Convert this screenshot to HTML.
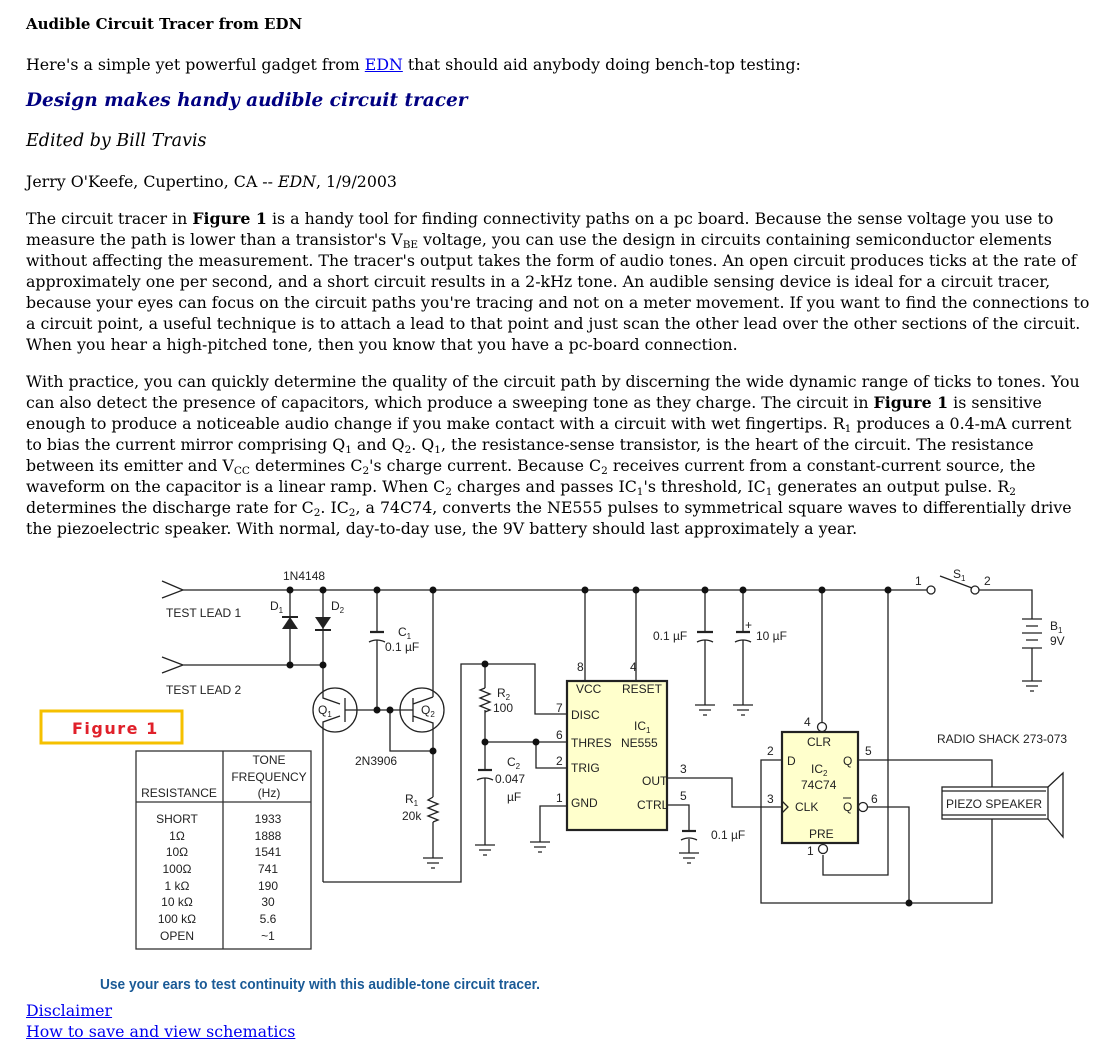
<!DOCTYPE html>
<html><head><meta charset="utf-8">
<style>
body{margin:0;background:#fff;width:1119px;height:1047px;position:relative;overflow:hidden;font-family:"DejaVu Serif",serif;color:#000}
.t{position:absolute;left:26px;white-space:nowrap;font-size:15.8px;line-height:21px}
a{color:#0000ee;text-decoration:underline}
sub{font-size:10.5px;vertical-align:-3px;line-height:0}
svg{position:absolute;left:0;top:0}
svg text{font-family:"Liberation Sans Narrow","Liberation Sans",sans-serif;font-size:12px;fill:#222}
</style></head><body>
<div class="t" style="top:14px;font-size:15px;font-weight:bold">Audible Circuit Tracer from EDN</div>
<div class="t" style="top:54px">Here's a simple yet powerful gadget from <a>EDN</a> that should aid anybody doing bench-top testing:</div>
<div class="t" style="top:89px;font-size:18.5px;line-height:24px;font-weight:bold;font-style:italic;color:#000080">Design makes handy audible circuit tracer</div>
<div class="t" style="top:130px;font-size:17.5px;line-height:22px;font-style:italic">Edited by Bill Travis</div>
<div class="t" style="top:171px">Jerry O'Keefe, Cupertino, CA -- <i>EDN</i>, 1/9/2003</div>
<div class="t" style="top:208px">The circuit tracer in <b>Figure 1</b> is a handy tool for finding connectivity paths on a pc board. Because the sense voltage you use to<br>measure the path is lower than a transistor's V<sub>BE</sub> voltage, you can use the design in circuits containing semiconductor elements<br>without affecting the measurement. The tracer's output takes the form of audio tones. An open circuit produces ticks at the rate of<br>approximately one per second, and a short circuit results in a 2-kHz tone. An audible sensing device is ideal for a circuit tracer,<br>because your eyes can focus on the circuit paths you're tracing and not on a meter movement. If you want to find the connections to<br>a circuit point, a useful technique is to attach a lead to that point and just scan the other lead over the other sections of the circuit.<br>When you hear a high-pitched tone, then you know that you have a pc-board connection.</div>
<div class="t" style="top:371px">With practice, you can quickly determine the quality of the circuit path by discerning the wide dynamic range of ticks to tones. You<br>can also detect the presence of capacitors, which produce a sweeping tone as they charge. The circuit in <b>Figure 1</b> is sensitive<br>enough to produce a noticeable audio change if you make contact with a circuit with wet fingertips. R<sub>1</sub> produces a 0.4-mA current<br>to bias the current mirror comprising Q<sub>1</sub> and Q<sub>2</sub>. Q<sub>1</sub>, the resistance-sense transistor, is the heart of the circuit. The resistance<br>between its emitter and V<sub>CC</sub> determines C<sub>2</sub>'s charge current. Because C<sub>2</sub> receives current from a constant-current source, the<br>waveform on the capacitor is a linear ramp. When C<sub>2</sub> charges and passes IC<sub>1</sub>'s threshold, IC<sub>1</sub> generates an output pulse. R<sub>2</sub><br>determines the discharge rate for C<sub>2</sub>. IC<sub>2</sub>, a 74C74, converts the NE555 pulses to symmetrical square waves to differentially drive<br>the piezoelectric speaker. With normal, day-to-day use, the 9V battery should last approximately a year.</div>
<div class="t" style="top:1000px"><a>Disclaimer</a></div>
<div class="t" style="top:1021px"><a>How to save and view schematics</a></div>

<svg width="1119" height="1047" viewBox="0 0 1119 1047">
<g stroke="#222" stroke-width="1.3" fill="none">
<path d="M183 590H931M975 590H1032V619M1032 648V681"/>
<path d="M162 581L183 590L162 598M162 657L183 665L162 673M183 665H323"/>
<path d="M290 590V665M323 590V665"/>
<path d="M377 590V632M377 640V710"/>
<path d="M433 590V697"/>
<circle cx="335" cy="710" r="22"/>
<circle cx="422" cy="710" r="22"/>
<path d="M323 665V698L340 704M345 698V722M345 710H413M413 698V722M323 882V722L340 716M413 704L433 697M413 716L433 723V751M390 710V751H433M433 751V797M433 822V858"/>
<path d="M323 882H461V664H535V714H567M485 664V688M485 710V742H567M536 742V768H567M485 742V770M485 778V845M567 806H540V842"/>
<path d="M433 797l-5 3l10 4l-10 4l10 4l-10 4l10 4l-5 2" />
<path d="M485 688l-5 2l10 4l-10 4l10 4l-10 4l10 4l-5 2"/>
<path d="M585 590V681M636 590V681M667 778H732V807H782M667 805H689V831M689 839V853"/>
<path d="M705 590V632M705 640V705M743 590V632M743 640V705"/>
<path d="M822 590V722M888 590V875H823V855M782 760H761V903H992V819M868 807H909V903M858 760H992V787"/>
<rect x="942" y="787" width="106" height="32"/>
<path d="M942 791H1046M942 815H1046M1048 787L1063 773V837L1048 819"/>
<circle cx="931" cy="590" r="4" fill="#fff"/>
<circle cx="975" cy="590" r="4" fill="#fff"/>
<path d="M940 576L972 588"/>
<path d="M1022 619H1042M1026 626H1038M1022 633H1042M1026 640H1038M1022 648H1042"/>
</g>
<g stroke="#222" stroke-width="2.2" fill="none">
<path d="M370 632H384M697 632h16M736 632h14"/>
<path d="M478 770h14"/>
<path d="M682 831h14"/>
</g>
<g stroke="#222" stroke-width="1.3" fill="none">
<path d="M369 642q8 -4 16 0M697 642q8 -4 16 0M735 642q8 -4 16 0M477 780q8 -4 16 0M681 840q8 -4 16 0"/>
</g>
<g stroke="#222" stroke-width="1.3">
<path d="M423 858h20M427 863h12M431 868h4"/>
<path d="M475 845h20M479 850h12M483 855h4"/>
<path d="M530 842h20M534 847h12M538 852h4"/>
<path d="M695 705h20M699 710h12M703 715h4"/>
<path d="M733 705h20M737 710h12M741 715h4"/>
<path d="M679 853h20M683 858h12M687 863h4"/>
<path d="M1022 681h20M1026 686h12M1030 691h4"/>
</g>
<polygon points="282,629 298,629 290,617" fill="#222"/><path d="M282 617H298" stroke="#222" stroke-width="2"/>
<polygon points="315,617 331,617 323,629" fill="#222"/><path d="M315 630H331" stroke="#222" stroke-width="2"/>
<g fill="#111">
<circle cx="290" cy="590" r="3.5"/><circle cx="323" cy="590" r="3.5"/><circle cx="377" cy="590" r="3.5"/><circle cx="433" cy="590" r="3.5"/>
<circle cx="290" cy="665" r="3.5"/><circle cx="323" cy="665" r="3.5"/><circle cx="377" cy="710" r="3.5"/><circle cx="390" cy="710" r="3.5"/>
<circle cx="433" cy="751" r="3.5"/><circle cx="485" cy="664" r="3.5"/><circle cx="485" cy="742" r="3.5"/><circle cx="536" cy="742" r="3.5"/>
<circle cx="585" cy="590" r="3.5"/><circle cx="636" cy="590" r="3.5"/><circle cx="705" cy="590" r="3.5"/><circle cx="743" cy="590" r="3.5"/>
<circle cx="822" cy="590" r="3.5"/><circle cx="888" cy="590" r="3.5"/><circle cx="909" cy="903" r="3.5"/>
</g>
<rect x="567" y="681" width="100" height="149" fill="#ffffcc" stroke="#222" stroke-width="2.2"/>
<rect x="782" y="732" width="76" height="111" fill="#ffffcc" stroke="#222" stroke-width="2.2"/>
<g stroke="#222" stroke-width="1.3" fill="#fff">
<circle cx="822" cy="727" r="4.5"/><circle cx="823" cy="849" r="4.5"/><circle cx="863" cy="807" r="4.5"/>
</g>
<path d="M782 801L788 807L782 813" stroke="#222" stroke-width="1.3" fill="none"/>
<text x="283" y="580">1N4148</text>
<text x="166" y="617">TEST LEAD 1</text>
<text x="166" y="694">TEST LEAD 2</text>
<text x="270" y="610">D<tspan font-size="8" dy="3">1</tspan></text>
<text x="331" y="610">D<tspan font-size="8" dy="3">2</tspan></text>
<text x="398" y="636">C<tspan font-size="8" dy="3">1</tspan></text>
<text x="385" y="651">0.1 µF</text>
<text x="318" y="714">Q<tspan font-size="8" dy="3">1</tspan></text>
<text x="421" y="714">Q<tspan font-size="8" dy="3">2</tspan></text>
<text x="355" y="765">2N3906</text>
<text x="405" y="803">R<tspan font-size="8" dy="3">1</tspan></text>
<text x="402" y="820">20k</text>
<text x="497" y="697">R<tspan font-size="8" dy="3">2</tspan></text>
<text x="493" y="712">100</text>
<text x="507" y="766">C<tspan font-size="8" dy="3">2</tspan></text>
<text x="495" y="783">0.047</text>
<text x="507" y="801">µF</text>
<text x="556" y="712">7</text><text x="556" y="739">6</text><text x="556" y="765">2</text><text x="556" y="802">1</text>
<text x="577" y="671">8</text><text x="630" y="671">4</text>
<text x="576" y="693">VCC</text><text x="622" y="693">RESET</text>
<text x="571" y="719">DISC</text><text x="571" y="747">THRES</text><text x="621" y="747">NE555</text>
<text x="634" y="730">IC<tspan font-size="8" dy="3">1</tspan></text>
<text x="571" y="772">TRIG</text><text x="642" y="785">OUT</text><text x="571" y="807">GND</text><text x="637" y="809">CTRL</text>
<text x="680" y="773">3</text><text x="680" y="800">5</text>
<text x="653" y="640">0.1 µF</text><text x="756" y="640">10 µF</text><text x="745" y="629" font-size="10">+</text>
<text x="711" y="839">0.1 µF</text>
<text x="804" y="726">4</text><text x="807" y="855">1</text>
<text x="767" y="755">2</text><text x="767" y="803">3</text><text x="865" y="755">5</text><text x="871" y="803">6</text>
<text x="807" y="746">CLR</text><text x="787" y="765">D</text><text x="843" y="765">Q</text>
<text x="811" y="773">IC<tspan font-size="8" dy="3">2</tspan></text><text x="801" y="789">74C74</text>
<text x="795" y="811">CLK</text><text x="843" y="811">Q</text><path d="M843 798h8" stroke="#222"/>
<text x="809" y="838">PRE</text>
<text x="915" y="585">1</text><text x="984" y="585">2</text><text x="953" y="578">S<tspan font-size="8" dy="3">1</tspan></text>
<text x="1050" y="630">B<tspan font-size="8" dy="3">1</tspan></text><text x="1050" y="645">9V</text>
<text x="937" y="743">RADIO SHACK 273-073</text>
<text x="946" y="808">PIEZO SPEAKER</text>
<rect x="41" y="711" width="141" height="32" fill="none" stroke="#f5c000" stroke-width="3"/>
<text x="72" y="734" style="font-family:'DejaVu Sans',sans-serif;font-weight:bold;font-size:16px;fill:#e0202a;letter-spacing:1.5px">Figure 1</text>
<g stroke="#333" stroke-width="1.3" fill="none">
<rect x="136" y="751" width="175" height="198"/><path d="M223 751V949M136 802H311"/>
</g>
<g text-anchor="middle" style="font-size:12px">
<text x="269" y="764">TONE</text><text x="269" y="781">FREQUENCY</text><text x="269" y="797">(Hz)</text>
<text x="179" y="797">RESISTANCE</text>
<text x="177" y="823">SHORT</text><text x="177" y="840">1Ω</text><text x="177" y="856">10Ω</text><text x="177" y="873">100Ω</text><text x="177" y="890">1 kΩ</text><text x="177" y="906">10 kΩ</text><text x="177" y="923">100 kΩ</text><text x="177" y="940">OPEN</text>
<text x="268" y="823">1933</text><text x="268" y="840">1888</text><text x="268" y="856">1541</text><text x="268" y="873">741</text><text x="268" y="890">190</text><text x="268" y="906">30</text><text x="268" y="923">5.6</text><text x="268" y="940">~1</text>
</g>
<text x="100" y="989" textLength="440" lengthAdjust="spacingAndGlyphs" style="font-family:'Liberation Sans',sans-serif;font-weight:bold;font-size:15px;fill:#1a5a96">Use your ears to test continuity with this audible-tone circuit tracer.</text>
</svg>
</body></html>
